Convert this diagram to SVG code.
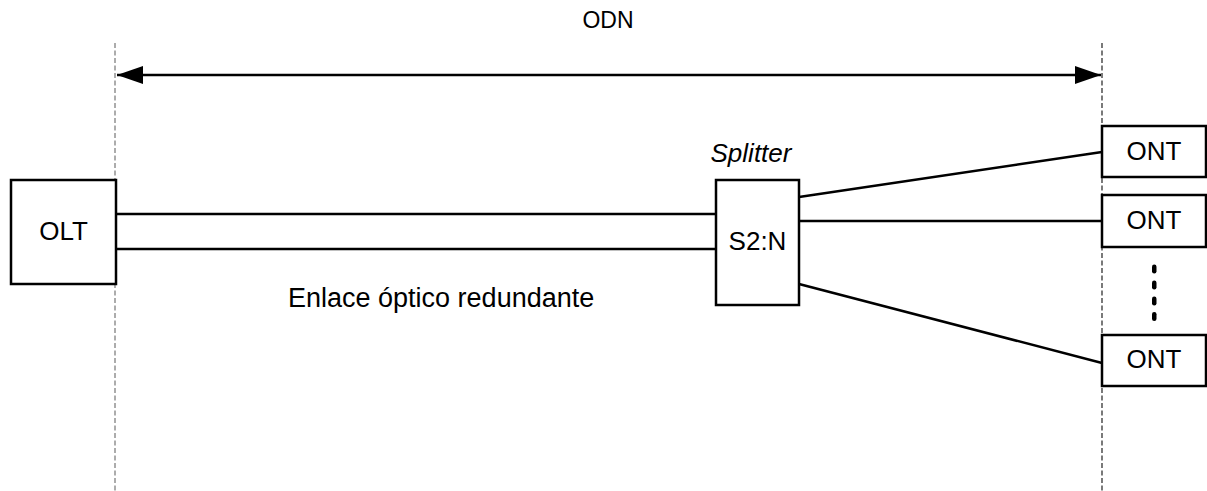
<svg xmlns="http://www.w3.org/2000/svg" width="1207" height="491" viewBox="0 0 1207 491">
<style>
  .box { fill: #ffffff; stroke: #000000; stroke-width: 2.5; }
  .lbl { font-family: "Liberation Sans", Arial, sans-serif; font-size: 26px; fill: #000000; text-anchor: middle; }
  .wire { stroke: #000000; stroke-width: 2.5; fill: none; }
  .guide { stroke-width: 1.3; stroke-dasharray: 5 2.5; fill: none; }
</style>
<defs>
  <marker id="ah" viewBox="0 0 26 18" refX="26" refY="9" markerWidth="26" markerHeight="18" markerUnits="userSpaceOnUse" orient="auto-start-reverse">
    <path d="M0,0 L26,9 L0,18 Z" fill="#000000"/>
  </marker>
</defs>
<rect width="1207" height="491" fill="#ffffff"/>
<g id="guides">
  <line class="guide" x1="115" y1="43" x2="115" y2="491" stroke="#808080"/>
  <line class="guide" x1="1102" y1="43" x2="1102" y2="491" stroke="#333333"/>
</g>
<g id="connectors">
  <line class="wire" x1="117" y1="75" x2="1101" y2="75" marker-start="url(#ah)" marker-end="url(#ah)"/>
  <line class="wire" x1="116" y1="214" x2="716" y2="214"/>
  <line class="wire" x1="116" y1="249" x2="716" y2="249"/>
  <line class="wire" x1="799" y1="197" x2="1102" y2="152"/>
  <line class="wire" x1="799" y1="221" x2="1102" y2="221"/>
  <line class="wire" x1="799" y1="284" x2="1102" y2="363"/>
</g>
<text class="lbl" x="608" y="28" style="font-size:23px">ODN</text>
<text class="lbl" x="288" y="307" style="text-anchor:start;font-size:27px">Enlace óptico redundante</text>
<g id="olt">
  <rect class="box" x="11" y="180" width="105" height="104"/>
  <text class="lbl" x="63.5" y="240">OLT</text>
</g>
<g id="splitter">
  <rect class="box" x="716" y="180" width="83" height="125"/>
  <text class="lbl" x="751" y="162" style="font-style:italic">Splitter</text>
  <text class="lbl" x="757.5" y="250">S2:N</text>
</g>
<g id="ont1">
  <rect class="box" x="1102" y="126" width="104" height="51"/>
  <text class="lbl" x="1154" y="160">ONT</text>
</g>
<g id="ont2">
  <rect class="box" x="1102" y="195" width="104" height="52"/>
  <text class="lbl" x="1154" y="229">ONT</text>
</g>
<g id="dots">
  <rect x="1152" y="264.5" width="4.5" height="9" rx="2.2" fill="#000000"/>
  <rect x="1152" y="280.5" width="4.5" height="9" rx="2.2" fill="#000000"/>
  <rect x="1152" y="296.5" width="4.5" height="9" rx="2.2" fill="#000000"/>
  <rect x="1152" y="312" width="4.5" height="9" rx="2.2" fill="#000000"/>
</g>
<g id="ont3">
  <rect class="box" x="1102" y="335" width="104" height="51"/>
  <text class="lbl" x="1154" y="368">ONT</text>
</g>
</svg>
